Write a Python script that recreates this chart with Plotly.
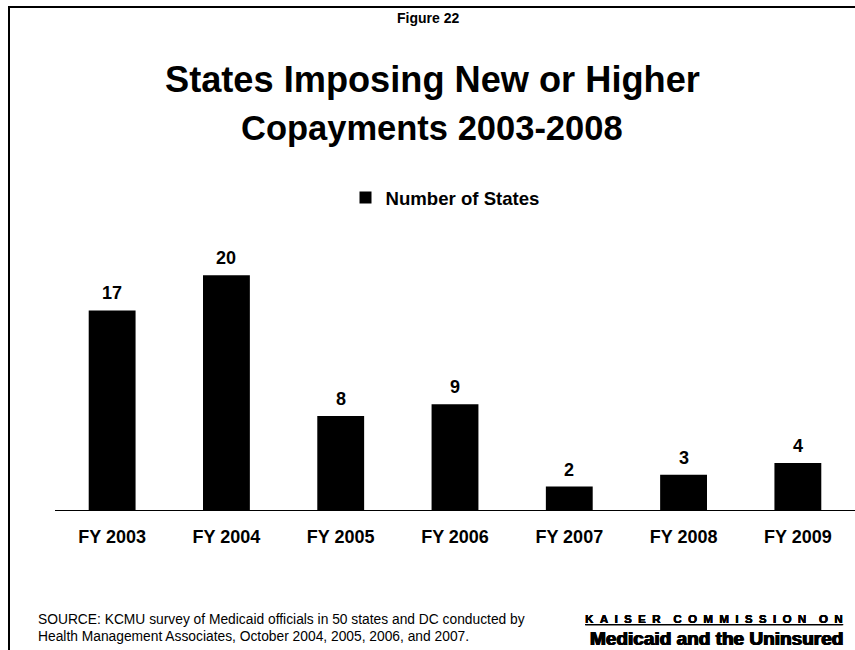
import plotly.graph_objects as go

# Data
categories = ["FY 2003", "FY 2004", "FY 2005", "FY 2006", "FY 2007", "FY 2008", "FY 2009"]
states = [17, 20, 8, 9, 2, 3, 4]
series_name = "Number of States"

title_lines = ["States Imposing New or Higher", "Copayments 2003-2008"]
figure_label = "Figure 22"
source_lines = [
    "SOURCE: KCMU survey of Medicaid officials in 50 states and DC conducted by",
    "Health Management Associates, October 2004, 2005, 2006, and 2007.",
]
logo_top = "KAISER COMMISSION ON"
logo_bottom = "Medicaid and the Uninsured"

# Layout geometry (pixels)
W, H = 855, 650
ML, MR, MT, MB = 55, 0, 200, 140
PW, PH = W - ML - MR, H - MT - MB
Y_MAX = 26.4

FONT = "Liberation Sans, Arial, sans-serif"


def px_x(x):
    return (x - ML) / PW


def px_y(y):
    return (H - MB - y) / PH


def spaced(text):
    # wide letter-spaced caption: two spaces between letters, more between words
    words = text.split(" ")
    return "\u00a0\u00a0\u00a0\u00a0".join("\u00a0\u00a0".join(w) for w in words)


fig = go.Figure()
fig.add_trace(go.Bar(
    x=categories,
    y=states,
    name=series_name,
    marker=dict(color="#000000", line=dict(width=0)),
    width=0.41,
    showlegend=True,
))

annotations = []
# value labels above bars
for c, v in zip(categories, states):
    annotations.append(dict(
        x=c, y=v, xref="x", yref="y", text=f"<b>{v}</b>", showarrow=False,
        yanchor="bottom", yshift=5, font=dict(family=FONT, size=18, color="#000"),
    ))

# heading texts
annotations.append(dict(
    x=px_x(428), y=px_y(18), xref="paper", yref="paper", text=f"<b>{figure_label}</b>",
    showarrow=False, xanchor="center", yanchor="middle",
    font=dict(family=FONT, size=14, color="#000"),
))
for line, yc, sz in zip(title_lines, [80, 128], [36.2, 34.5]):
    annotations.append(dict(
        x=px_x(432), y=px_y(yc), xref="paper", yref="paper", text=f"<b>{line}</b>",
        showarrow=False, xanchor="center", yanchor="middle",
        font=dict(family=FONT, size=sz, color="#000"),
    ))

# source note
for line, yc in zip(source_lines, [619, 636]):
    annotations.append(dict(
        x=px_x(36), y=px_y(yc), xref="paper", yref="paper", text=line,
        showarrow=False, xanchor="left", yanchor="middle",
        font=dict(family=FONT, size=13.8, color="#000"),
    ))

# commission logo
annotations.append(dict(
    x=px_x(844), y=px_y(619), xref="paper", yref="paper",
    text=f"<b>{spaced(logo_top)}</b>", borderpad=0,
    showarrow=False, xanchor="right", yanchor="middle",
    font=dict(family=FONT, size=11.5, color="#000", lineposition="under",
              shadow="0.3px 0 0 #000"),
))
annotations.append(dict(
    x=px_x(844), y=px_y(638), xref="paper", yref="paper",
    text=f"<b>{logo_bottom}</b>", borderpad=0,
    showarrow=False, xanchor="right", yanchor="middle",
    font=dict(family=FONT, size=19, color="#000",
              shadow="0.7px 0 0 #000, -0.7px 0 0 #000, 0 0.4px 0 #000"),
))

# frame lines along left and top edges
shapes = [
    dict(type="line", xref="paper", yref="paper",
         x0=px_x(9), x1=px_x(9), y0=px_y(650), y1=px_y(7),
         line=dict(color="#000", width=2)),
    dict(type="line", xref="paper", yref="paper",
         x0=px_x(8), x1=px_x(855), y0=px_y(7), y1=px_y(7),
         line=dict(color="#000", width=2)),
]

fig.update_layout(
    width=W, height=H,
    margin=dict(l=ML, r=MR, t=MT, b=MB, pad=0),
    paper_bgcolor="#ffffff", plot_bgcolor="#ffffff",
    font=dict(family=FONT, color="#000"),
    bargap=0.59,
    annotations=annotations,
    shapes=shapes,
    legend=dict(
        orientation="h", x=px_x(445), xanchor="center", y=px_y(198), yanchor="middle",
        font=dict(family=FONT, size=18.6, color="#000", weight="bold"),
        bgcolor="rgba(0,0,0,0)", itemwidth=30,
    ),
    xaxis=dict(
        showline=True, linecolor="#000", linewidth=1, ticks="", showgrid=False,
        tickfont=dict(family=FONT, size=18, color="#000", weight="bold"),
        ticklabelstandoff=10, zeroline=False,
    ),
    yaxis=dict(
        range=[0, Y_MAX], visible=False, showgrid=False, zeroline=False,
    ),
)

fig.write_html("out.html")
